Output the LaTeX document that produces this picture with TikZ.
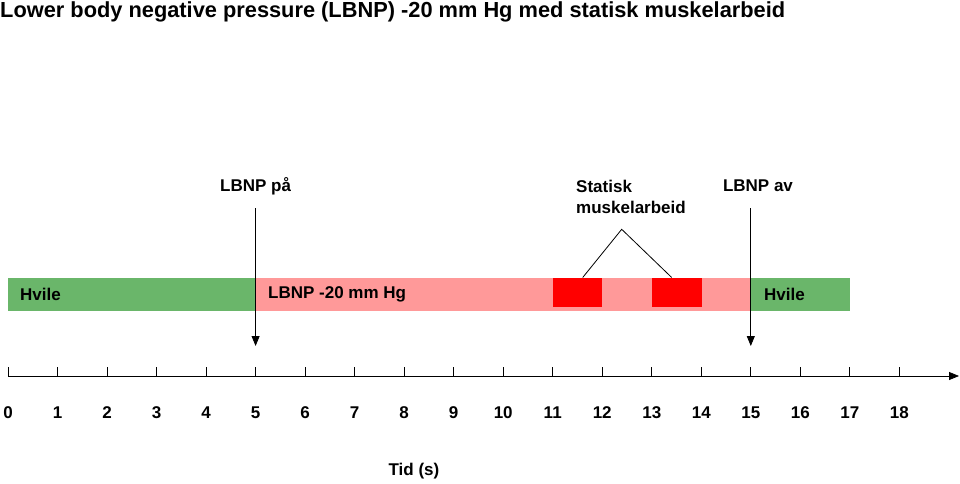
\documentclass[tikz,border=0pt]{standalone}
\usepackage{fontspec}
\setmainfont{Liberation Sans}
\usetikzlibrary{arrows.meta}
\definecolor{restgreen}{RGB}{106,182,106}
\definecolor{lbnppink}{RGB}{255,153,153}
\definecolor{workred}{RGB}{255,0,0}
\tikzset{
  lbl/.style={font=\bfseries\fontsize{17}{20}\selectfont, inner sep=0pt},
  barbox/.style={inner sep=0pt, minimum height=33pt, anchor=north west},
  workbox/.style={fill=workred, inner sep=0pt, minimum height=29pt, minimum width=49.5pt, anchor=north west},
  marker/.style={-{Triangle[length=10pt,width=8pt]}, line width=0.8pt},
}
\begin{document}
\begin{tikzpicture}[x=1pt,y=-1pt]
\useasboundingbox (0,0) rectangle (960,483);
\def\u{49.52}
% title
\node[anchor=west, font=\bfseries\fontsize{21.8}{24}\selectfont, inner sep=0pt] (title) at (0,12) {Lower body negative pressure (LBNP) -20 mm Hg med statisk muskelarbeid};
% bars
\node[barbox, fill=restgreen, minimum width=247.6pt] (rest1) at (8,277.5) {};
\node[barbox, fill=lbnppink, minimum width=495.2pt] (lbnp) at (255.6,277.5) {};
\node[barbox, fill=restgreen, minimum width=99pt] (rest2) at (750.8,277.5) {};
\node[workbox] (w1) at (552.7,277.5) {};
\node[workbox] (w2) at (651.8,277.5) {};
% bar texts
\node[lbl, anchor=west] (t1) at (20,294.5) {Hvile};
\node[lbl, anchor=west] (t2) at (268,294.5) {LBNP -20 mm Hg};
\node[lbl, anchor=west] (t3) at (764,294.5) {Hvile};
% labels above
\node[lbl] (on) at (255.6,186) {LBNP på};
\node[lbl] (off) at (758,186) {LBNP av};
\node[lbl, anchor=west, align=left] (stat) at (576,197) {Statisk\\[1pt]muskelarbeid};
% markers
\coordinate (onA) at (255.6,208);
\coordinate (onB) at (255.6,346);
\coordinate (offA) at (750.8,208);
\coordinate (offB) at (750.8,346);
\draw[marker] (onA) -- (onB);
\draw[marker] (offA) -- (offB);
% bracket
\coordinate (apex) at (621.7,229.3);
\coordinate (w1top) at (582.7,277.5);
\coordinate (w2top) at (671.7,277.5);
\draw[line width=0.8pt] (w1top) -- (apex) -- (w2top);
% axis
\coordinate (ax0) at (8,376);
\coordinate (axE) at (959,376);
\draw[-{Triangle[length=10pt,width=8pt]}, line width=0.8pt] (ax0) -- (axE);
\foreach \i in {0,...,18} {
  \draw[line width=0.8pt] (8+\i*\u,376) -- (8+\i*\u,366.5);
  \node[lbl] (n\i) at (8+\i*\u,413) {\i};
}
\node[lbl] (tid) at (414,471) {Tid (s)};
\end{tikzpicture}
\end{document}
